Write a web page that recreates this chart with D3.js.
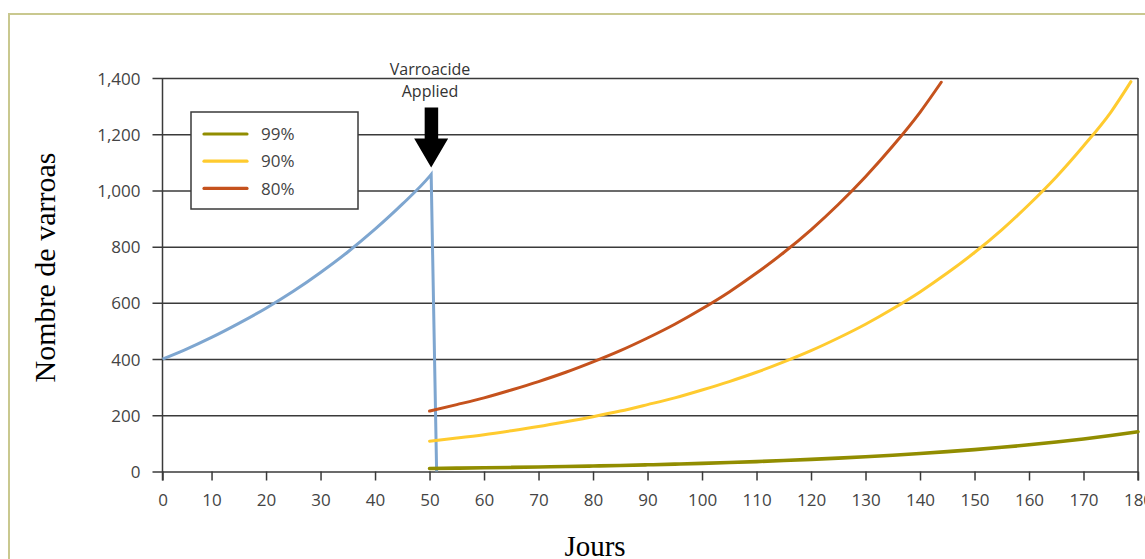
<!DOCTYPE html>
<html>
<head>
<meta charset="utf-8">
<script src="https://cdn.jsdelivr.net/npm/d3@7/dist/d3.min.js"></script>
<style>
  html, body { margin: 0; padding: 0; background: #fff; }
  svg { display: block; }
</style>
</head>
<body>
<svg id="chart" width="1145" height="559"></svg>
<script>
// ---------- data ----------
const xTickDays   = [1, 10, 20, 30, 40, 50, 60, 70, 80, 90, 100, 110, 120, 130, 140, 150, 160, 170, 180];
const xTickLabels = ["0","10","20","30","40","50","60","70","80","90","100","110","120","130","140","150","160","170","180"];
const yTicks      = [0, 200, 400, 600, 800, 1000, 1200, 1400];

// untreated colony before treatment, then crash after varroacide
const beforeDays   = [1, 5, 10, 15, 20, 25, 30, 35, 40, 45, 50, 50.3];
const beforeValues = [400, 432, 477, 527, 581, 641, 708, 781, 862, 951, 1050, 1057];
const dropDays     = [50.3, 51.3];
const dropValues   = [1057, 0];

// regrowth after treatment at given efficacy
const eff80Days   = [50, 55, 60, 65, 70, 75, 80, 85, 90, 95, 100, 105, 110, 115, 120, 125, 130, 135, 140, 143.9];
const eff80Values = [215, 238, 262, 290, 320, 353, 390, 430, 475, 524, 579, 639, 706, 779, 860, 950, 1049, 1158, 1278, 1385];
const eff90Days   = [50, 55, 60, 65, 70, 75, 80, 85, 90, 95, 100, 105, 110, 115, 120, 125, 130, 135, 140, 145, 150, 155, 160, 165, 170, 175, 178.7];
const eff90Values = [108, 119, 131, 145, 160, 177, 195, 215, 238, 262, 290, 320, 353, 390, 430, 475, 524, 579, 639, 706, 779, 860, 950, 1048, 1158, 1278, 1387];
const eff99Days   = [50, 55, 60, 65, 70, 75, 80, 85, 90, 95, 100, 105, 110, 115, 120, 125, 130, 135, 140, 145, 150, 155, 160, 165, 170, 175, 180];
const eff99Values = [10.8, 11.9, 13.1, 14.5, 16.0, 17.6, 19.5, 21.5, 23.8, 26.2, 29.0, 32.0, 35.3, 39.0, 43.0, 47.5, 52.5, 57.9, 63.9, 70.6, 77.9, 86.0, 95.0, 104.8, 115.8, 127.8, 141.6];

const legendLabels = ["99%", "90%", "80%"];
const seriesColors = ["#918d00", "#ffcb2f", "#c5521d"];
const blueColor = "#7ea6d0";

// ---------- layout ----------
const svg = d3.select("#chart");
const x = d3.scaleLinear().domain([1, 180]).range([162.5, 1138]);
const y = d3.scaleLinear().domain([0, 1400]).range([471.5, 78]);

const gridColor = "#3a3a3a";
const labelFont = "'Open Sans', 'Noto Sans', sans-serif";

// outer frame
svg.append("path")
  .attr("d", "M9,559 L9,14 L1145,14")
  .attr("fill", "none")
  .attr("stroke", "#c9c88f")
  .attr("stroke-width", 2);

// horizontal gridlines (y axis)
const yAxis = d3.axisLeft(y)
  .tickValues(yTicks)
  .tickSize(-(x.range()[1] - x.range()[0]))
  .tickPadding(0)
  .tickFormat(d3.format(","));
const gy = svg.append("g").attr("transform", `translate(${x.range()[0]},0)`).call(yAxis);
gy.select(".domain").remove();
gy.selectAll(".tick line")
  .attr("x1", -10)
  .attr("stroke", gridColor)
  .attr("stroke-width", 1.5);
gy.selectAll(".tick text")
  .attr("x", -22)
  .attr("dy", "0.36em")
  .attr("fill", "#444")
  .style("font-family", labelFont)
  .style("font-size", "17px");

// x axis ticks
const xAxis = d3.axisBottom(x)
  .tickValues(xTickDays)
  .tickSize(9)
  .tickPadding(0)
  .tickFormat((d, i) => xTickLabels[i]);
const gx = svg.append("g").attr("transform", `translate(0,${y(0)})`).call(xAxis);
gx.select(".domain").remove();
gx.selectAll(".tick line").attr("stroke", gridColor).attr("stroke-width", 1.5);
gx.selectAll(".tick text")
  .attr("y", 0)
  .attr("dy", "34px")
  .attr("fill", "#444")
  .style("font-family", labelFont)
  .style("font-size", "17px");

// left axis line and right border
svg.append("line")
  .attr("x1", x.range()[0]).attr("x2", x.range()[0])
  .attr("y1", y(1400)).attr("y2", y(0) + 9)
  .attr("stroke", gridColor).attr("stroke-width", 1.5);
svg.append("line")
  .attr("x1", x.range()[1]).attr("x2", x.range()[1])
  .attr("y1", y(1400)).attr("y2", y(0) + 9)
  .attr("stroke", gridColor).attr("stroke-width", 1.5);

// ---------- series ----------
const lineMono = d3.line().x(d => x(d[0])).y(d => y(d[1])).curve(d3.curveMonotoneX);
const lineLin  = d3.line().x(d => x(d[0])).y(d => y(d[1]));

const risePts = beforeDays.map((d, i) => [d, beforeValues[i]]);
const dropPts = dropDays.map((d, i) => [d, dropValues[i]]);
const blueD = lineMono(risePts) + lineLin(dropPts).replace(/^M[^L]*/, "");
svg.append("path")
  .attr("d", blueD)
  .attr("fill", "none")
  .attr("stroke", blueColor)
  .attr("stroke-width", 3)
  .attr("stroke-linejoin", "miter");

const treatedSeries = [
  [eff99Days, eff99Values],
  [eff90Days, eff90Values],
  [eff80Days, eff80Values]
];
const widths = [3.6, 3, 3];
treatedSeries.forEach(([days, vals], k) => {
  const pts = vals.map((v, i) => [days[i], v]);
  svg.append("path")
    .attr("d", lineMono(pts))
    .attr("fill", "none")
    .attr("stroke", seriesColors[k])
    .attr("stroke-width", widths[k])
    .attr("stroke-linecap", "round");
});

// ---------- legend ----------
const lg = svg.append("g");
lg.append("rect")
  .attr("x", 191).attr("y", 112).attr("width", 167).attr("height", 97)
  .attr("fill", "#fff").attr("stroke", gridColor).attr("stroke-width", 1.5);
legendLabels.forEach((lab, i) => {
  const yy = 134 + i * 27.2;
  lg.append("line")
    .attr("x1", 204).attr("x2", 247).attr("y1", yy).attr("y2", yy)
    .attr("stroke", seriesColors[i]).attr("stroke-width", 3.2).attr("stroke-linecap", "round");
  lg.append("text")
    .attr("x", 261).attr("y", yy).attr("dy", "0.36em")
    .attr("fill", "#444")
    .style("font-family", labelFont).style("font-size", "17px")
    .text(lab);
});

// ---------- annotation ----------
const peakX = x(beforeDays[beforeDays.length - 1]);
const tipY = y(beforeValues[beforeValues.length - 1]) - 7;
svg.append("path")
  .attr("d", `M${peakX},${tipY} L${peakX - 17},${tipY - 29} L${peakX - 6.5},${tipY - 29} L${peakX - 6.5},${tipY - 60} L${peakX + 7},${tipY - 60} L${peakX + 7},${tipY - 29} L${peakX + 17},${tipY - 29} Z`)
  .attr("fill", "#000");
svg.append("text")
  .attr("x", 430).attr("y", 75).attr("text-anchor", "middle")
  .attr("fill", "#333")
  .style("font-family", labelFont).style("font-size", "16px")
  .text("Varroacide");
svg.append("text")
  .attr("x", 430).attr("y", 97).attr("text-anchor", "middle")
  .attr("fill", "#333")
  .style("font-family", labelFont).style("font-size", "16px")
  .text("Applied");

// ---------- axis titles ----------
svg.append("text")
  .attr("transform", "translate(55,267.5) rotate(-90)")
  .attr("text-anchor", "middle")
  .attr("fill", "#000")
  .style("font-family", "'Liberation Serif', 'Times New Roman', serif")
  .style("font-size", "30px")
  .text("Nombre de varroas");
svg.append("text")
  .attr("x", 595).attr("y", 556).attr("text-anchor", "middle")
  .attr("fill", "#000")
  .style("font-family", "'Liberation Serif', 'Times New Roman', serif")
  .style("font-size", "29px")
  .text("Jours");
</script>
</body>
</html>
